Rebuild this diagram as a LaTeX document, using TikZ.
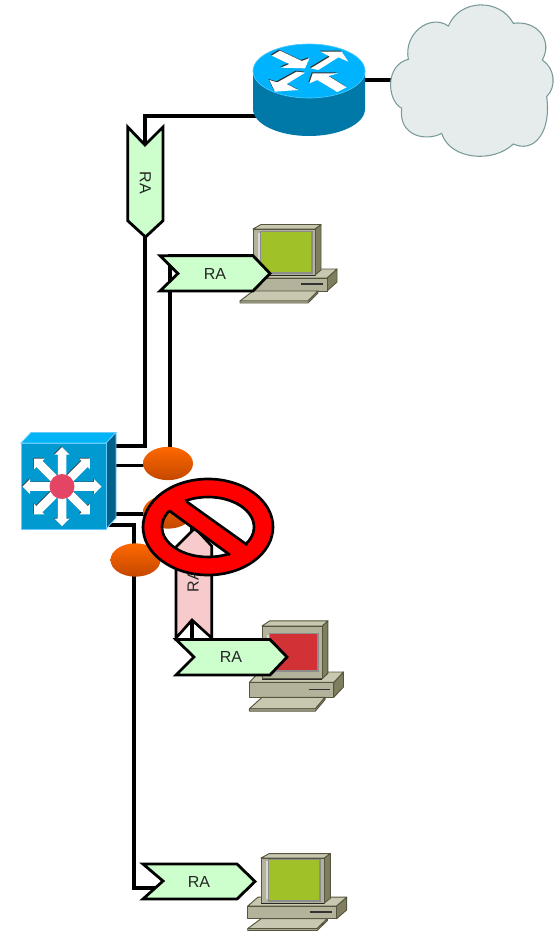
\documentclass[tikz,border=0pt]{standalone}
\usepackage{fontspec}
\setmainfont{Liberation Sans}
\usetikzlibrary{shapes.geometric}
\definecolor{rafill}{HTML}{CCFFCC}
\definecolor{pinkfill}{HTML}{F7CBCB}
\definecolor{rtop}{HTML}{00B3FF}
\definecolor{rside}{HTML}{0079A8}
\definecolor{swfront}{HTML}{0099D0}
\definecolor{swtop}{HTML}{00B4F5}
\definecolor{swside}{HTML}{006088}
\definecolor{swedge}{HTML}{66CCFF}
\definecolor{swhub}{HTML}{E54565}
\definecolor{cloudfill}{HTML}{E6ECEC}
\definecolor{cloudedge}{HTML}{7A9A9A}
\definecolor{pcfront}{HTML}{B3B39B}
\definecolor{pctop}{HTML}{C8C8B0}
\definecolor{pcside}{HTML}{7F7F5F}
\definecolor{pcedge}{HTML}{55553F}
\definecolor{scrgreen}{HTML}{A0C228}
\definecolor{scrred}{HTML}{D23236}
\definecolor{ovaltop}{HTML}{FF6800}
\definecolor{ovalbot}{HTML}{C44800}
\tikzset{
  wire/.style={line width=2.6pt,black},
  rabadge/.style={fill=rafill,draw=black,line width=2.1pt,line join=miter},
  ralabel/.style={font=\fontsize{12}{14}\selectfont,text=black!85,inner sep=0pt},
  ovalnode/.style={ellipse,minimum width=37.5pt,minimum height=25pt,inner sep=0pt,top color=ovaltop,bottom color=ovalbot},
  pcpart/.style={draw=pcedge,line width=.7pt,line join=round}
}
\newcommand{\pcicon}[4]{%
  \begin{scope}[shift={(#1,#2)},xscale=#3,yscale=#4]
    \fill[pcpart,fill=pcside] (74,49)--(84,40)--(84,53)--(74,62)--cycle;
    \fill[pcpart,fill=pctop] (-13,49)--(-3,40)--(84,40)--(74,49)--cycle;
    \fill[pcpart,fill=pcfront] (-13,49)--(74,49)--(74,62)--(-13,62)--cycle;
    \draw[line width=.9pt,black!80] (48,55)--(70,55);
    \fill[pcpart,fill=pctop] (0,62)--(65,62)--(55,72)--(-13,72)--cycle;
    \fill[pcpart,fill=pcfront] (-13,72)--(55,72)--(65,62)--(65,64)--(55,74)--(-13,74)--cycle;
    \fill[pcpart,fill=pcside] (62,0)--(68,-4.5)--(68,41)--(62,46)--cycle;
    \fill[pcpart,fill=pctop] (0,0)--(8,-4.5)--(68,-4.5)--(62,0)--cycle;
    \fill[pcpart,fill=pcfront] (0,0)--(62,0)--(62,46)--(0,46)--cycle;
    \draw[line width=1pt,black!85] (0,46.5)--(62,46.5);
  \end{scope}}
\newcommand{\pcscreen}[5]{%
  \fill[black!45] (#1-1.5,#2-1.5) rectangle (#3+1.5,#4+1.5);
  \fill[white!85!black] (#1-3,#2+1) rectangle (#1-1.5,#4-1);
  \fill[#5] (#1,#2) rectangle (#3,#4);}
\newcommand{\routerarrows}[1]{%
  \fill[#1] (125,167)--(150,152)--(215,183)--(238,175)--(225,205)--(153,203)--(178,192)--cycle;
  \fill[#1] (242,205)--(300,170)--(272,155)--(335,155)--(355,185)--(325,172)--(265,210)--cycle;
  \fill[#1] (225,218)--(170,252)--(205,270)--(135,275)--(118,240)--(142,247)--(200,215)--cycle;
  \fill[#1] (350,262)--(322,276)--(262,240)--(238,250)--(248,220)--(325,220)--(295,228)--cycle;}
\newcommand{\hubarrow}[1]{\fill[#1] (0,-4.3)--(32,-4.3)--(32,-7.5)--(39.5,0)--(32,7.5)--(32,4.3)--(0,4.3)--cycle;}
\begin{document}
\begin{tikzpicture}[x=0.75pt,y=-0.75pt]
\useasboundingbox (0,0) rectangle (560,933);
% ports
\coordinate (routerW) at (256,116);
\coordinate (routerE) at (362,80);
\coordinate (cloudW) at (392,80);
\coordinate (sw1) at (114,446);
\coordinate (sw2) at (114,465.5);
\coordinate (sw3) at (114,514);
\coordinate (sw4) at (104,525);
\coordinate (pc1port) at (256,256);
\coordinate (pc2port) at (192,645);
\coordinate (pc3port) at (170,888);
\coordinate (ovalAc) at (168,463.5);
\coordinate (ovalBc) at (168,512);
% wires
\draw[wire] (routerE) -- (cloudW);
\draw[wire] (routerW) -| (145,446) -- (sw1);
\draw[wire] (pc1port) -| (170,463);
\draw[wire] (sw2) -- (sw2 -| ovalAc);
\draw[wire] (sw3) -- (sw3 -| ovalBc);
\draw[wire] (ovalBc) -| (pc2port);
\draw[wire] (sw4) -| (134,888) -- (pc3port);
% ovals
\node[ovalnode] (ovalA) at (ovalAc) {};
\node[ovalnode] (ovalB) at (ovalBc) {};
\node[ovalnode] (ovalC) at (135.5,560) {};
% cloud
\begin{scope}[shift={(230,0)},scale=0.33333]
\draw[fill=cloudfill,draw=cloudedge,line width=.8pt]
 (535,178) .. controls (520,100) and (600,40) .. (655,78)
 .. controls (690,-5) and (810,-5) .. (850,70)
 .. controls (920,60) and (970,120) .. (937,180)
 .. controls (975,205) and (980,260) .. (950,290)
 .. controls (965,400) and (910,460) .. (850,432)
 .. controls (790,490) and (660,480) .. (635,400)
 .. controls (590,425) and (505,410) .. (515,325)
 .. controls (470,300) and (465,195) .. (535,178) -- cycle;
\end{scope}
% router
\fill[rside] (253,71) -- (253,109) arc[start angle=180,end angle=0,x radius=56,y radius=27] -- (365,71) -- cycle;
\draw[fill=rtop,draw=rtop!70!white,line width=.5pt] (309,71) ellipse (56 and 27);
\begin{scope}[shift={(229,-1)},scale=0.33333]
 \routerarrows{black!80}
\end{scope}
\begin{scope}[shift={(230,0)},scale=0.33333]
 \routerarrows{white}
\end{scope}
% switch
\draw[fill=swtop,draw=swedge,line width=.6pt] (21,443)--(31,432.5)--(116,432.5)--(106,443)--cycle;
\draw[fill=swside,draw=swedge,line width=.6pt] (106,443)--(116,432.5)--(116,518)--(106,529)--cycle;
\draw[fill=swfront,draw=swedge,line width=.6pt] (21,443) rectangle (106,529);
\foreach \a in {0,45,...,315}{
 \begin{scope}[shift={(61.3,485.8)},rotate=\a]
  \hubarrow{black!75}
 \end{scope}}
\foreach \a in {0,45,...,315}{
 \begin{scope}[shift={(62,486.5)},rotate=\a]
  \hubarrow{white}
 \end{scope}}
\fill[swhub] (62,486.5) circle (12.5);
% computers
\pcicon{253}{229}{1}{1}
\pcscreen{261}{232}{311}{272}{scrgreen}
\pcicon{262}{626}{0.97}{1.15}
\pcscreen{270}{634}{317}{670}{scrred}
\pcicon{261}{858}{1.02}{0.98}
\pcscreen{269}{860}{319}{900}{scrgreen}
% pink RA (blocked)
\draw[fill=pinkfill,draw=black,line width=2pt,line join=miter] (176,547)--(195,528)--(211.7,546)--(211.7,638)--(192,620)--(176,638)--cycle;
\draw[wire] (192,620)--(pc2port);
\node[ralabel,rotate=90] (raP) at (193,581) {RA};
% RA badges
\draw[rabadge] (127.7,127)--(145,145)--(163,127)--(163,220.7)--(145.5,237)--(127.7,220.7)--cycle;
\node[ralabel,rotate=-90] (raR) at (145.5,183) {RA};
\draw[rabadge] (160,255.7)--(253,255.7)--(270,273.5)--(253,291)--(160,291)--(178,273.5)--cycle;
\node[ralabel] (raA) at (215,273.5) {RA};
\draw[rabadge] (176,639.5)--(270,639.5)--(287,657)--(270,675)--(176,675)--(194,657)--cycle;
\node[ralabel] (raB) at (231,657) {RA};
\draw[rabadge] (143,864)--(237,864)--(255,881.5)--(237,899)--(143,899)--(163,881)--cycle;
\node[ralabel] (raC) at (199,881.5) {RA};
% prohibition sign
\draw[fill=red,even odd rule,draw=black,line width=2pt] (208,527) ellipse (65 and 48) (208,527) ellipse (46 and 30);
\fill[red] (183.4,499.4)--(250.6,547.3)--(233.3,557.3)--(166,508.4)--cycle;
\draw[black,line width=2pt] (186.7,501.7)--(247.3,545) (230,555)--(169.3,510.7);
\end{tikzpicture}
\end{document}
